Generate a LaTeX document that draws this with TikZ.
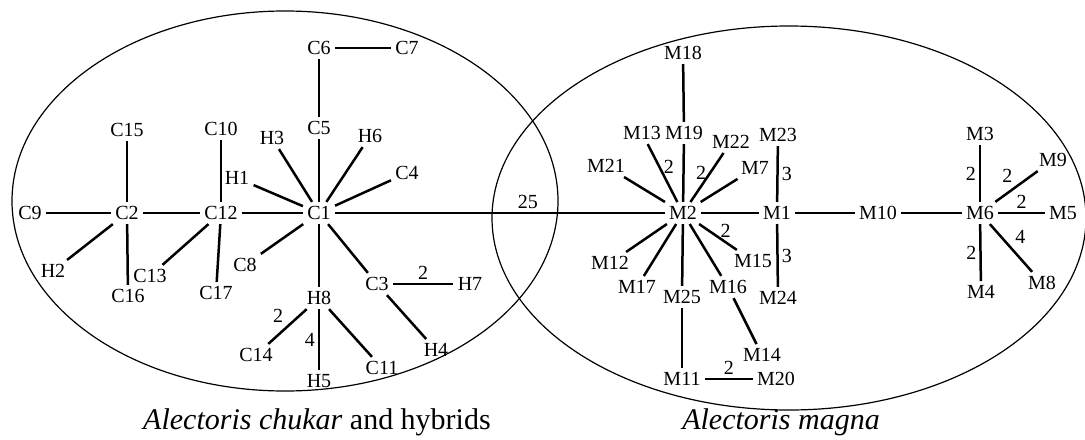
\documentclass[tikz,border=0pt]{standalone}
\usepackage{fontspec}
\setmainfont{Liberation Serif}
\begin{document}
\begin{tikzpicture}[x=0.5pt, y=-0.5pt,
  every node/.style={inner sep=2pt, font=\fontsize{10}{12}\selectfont},
  link/.style={line width=1.25pt},
  num/.style={inner sep=1.5pt}]
\useasboundingbox (0,0) rectangle (1085,439);
\draw[line width=0.6pt] (285,201) ellipse [x radius=273, y radius=190];
\draw[line width=0.6pt] (789,218) ellipse [x radius=297, y radius=192];
\node (C6) at (319,48) {C6};
\node (C7) at (407,48) {C7};
\node (C5) at (319,128) {C5};
\node (C15) at (127,130) {C15};
\node (C10) at (221,129) {C10};
\node (H3) at (272,138) {H3};
\node (H6) at (370,136) {H6};
\node (H1) at (237,178) {H1};
\node (C4) at (407,173) {C4};
\node (C9) at (30,213) {C9};
\node (C2) at (127,213) {C2};
\node (C12) at (221,213) {C12};
\node (C1) at (319,213) {C1};
\node (H2) at (53,271) {H2};
\node (C13) at (150,276) {C13};
\node (C16) at (128,296) {C16};
\node (C17) at (216,293) {C17};
\node (C8) at (245,265) {C8};
\node (C3) at (377,284) {C3};
\node (H7) at (470,284) {H7};
\node (H8) at (319,298) {H8};
\node (C14) at (256,355) {C14};
\node (H5) at (319,381) {H5};
\node (C11) at (382,368) {C11};
\node (H4) at (436,350) {H4};
\node (M18) at (683,53) {M18};
\node (M19) at (684,133) {M19};
\node (M13) at (642,133) {M13};
\node (M22) at (731,142) {M22};
\node (M23) at (778,135) {M23};
\node (M21) at (606,166) {M21};
\node (M7) at (755,168) {M7};
\node (M2) at (683,213) {M2};
\node (M1) at (777,213) {M1};
\node (M10) at (878,213) {M10};
\node (M6) at (980,213) {M6};
\node (M5) at (1063,213) {M5};
\node (M3) at (980,134) {M3};
\node (M9) at (1053,160) {M9};
\node (M4) at (981,292) {M4};
\node (M8) at (1042,283) {M8};
\node (M12) at (610,263) {M12};
\node (M17) at (637,287) {M17};
\node (M25) at (682,297) {M25};
\node (M16) at (728,287) {M16};
\node (M15) at (753,261) {M15};
\node (M24) at (778,298) {M24};
\node (M14) at (762,355) {M14};
\node (M11) at (682,379) {M11};
\node (M20) at (776,379) {M20};
\draw[link] (C6) -- (C7);
\draw[link] (C6) -- (C5);
\draw[link] (C5) -- (C1);
\draw[link] (H3) -- (C1);
\draw[link] (H6) -- (C1);
\draw[link] (H1) -- (C1);
\draw[link] (C4) -- (C1);
\draw[link] (C12) -- (C1);
\draw[link] (C2) -- (C12);
\draw[link] (C9) -- (C2);
\draw[link] (C15) -- (C2);
\draw[link] (C10) -- (C12);
\draw[link] (C2) -- (H2);
\draw[link] (C2) -- (C16);
\draw[link] (C12) -- (C13);
\draw[link] (C12) -- (C17);
\draw[link] (C1) -- (C8);
\draw[link] (C1) -- (H8);
\draw[link] (C1) -- (C3);
\draw[link] (C3) -- node[num, above] {2} (H7);
\draw[link] (C3) -- (H4);
\draw[link] (H8) -- node[num, above left] {2} (C14);
\draw[link] (H8) -- node[num, left] {4} (H5);
\draw[link] (H8) -- (C11);
\draw[link] (C1) -- node[num, above, pos=0.585] {25} (M2);
\draw[link] (M2) -- (M19);
\draw[link] (M19) -- (M18);
\draw[link] (M2) -- node[num, right, pos=0.6] {2} (M13);
\draw[link] (M2) -- node[num, left, pos=0.6] {2} (M22);
\draw[link] (M2) -- (M21);
\draw[link] (M2) -- (M7);
\draw[link] (M2) -- (M1);
\draw[link] (M1) -- node[num, right] {3} (M23);
\draw[link] (M1) -- node[num, right] {3} (M24);
\draw[link] (M1) -- (M10);
\draw[link] (M10) -- (M6);
\draw[link] (M6) -- node[num, left] {2} (M3);
\draw[link] (M6) -- node[num, above left] {2} (M9);
\draw[link] (M6) -- node[num, above] {2} (M5);
\draw[link] (M6) -- node[num, left] {2} (M4);
\draw[link] (M6) -- node[num, above right] {4} (M8);
\draw[link] (M2) -- (M12);
\draw[link] (M2) -- (M17);
\draw[link] (M2) -- (M25);
\draw[link] (M2) -- (M16);
\draw[link] (M2) -- node[num, above, pos=0.7] {2} (M15);
\draw[link] (M16) -- (M14);
\draw[link] (M25) -- (M11);
\draw[link] (M11) -- node[num, above] {2} (M20);
\node[font=\fontsize{15}{18}\selectfont, anchor=base] (capC) at (317,429) {\textit{Alectoris chukar} and hybrids};
\node[font=\fontsize{15}{18}\selectfont, anchor=base] (capM) at (781,429) {\textit{Alectoris magna}};
\end{tikzpicture}
\end{document}
